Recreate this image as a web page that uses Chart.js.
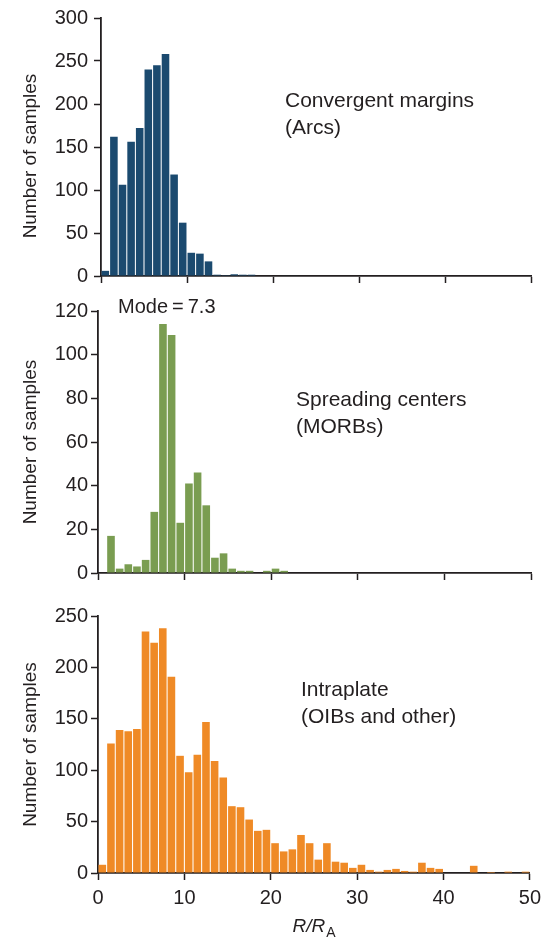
<!DOCTYPE html>
<html><head><meta charset="utf-8">
<script src="https://cdn.jsdelivr.net/npm/chart.js@4.4.1/dist/chart.umd.min.js"></script>
<style>
html,body{margin:0;padding:0;background:#fff;}
body{width:547px;height:940px;position:relative;overflow:hidden;}
.p{position:absolute;left:0;width:547px;}
</style></head><body>
<div class="p" style="top:0;height:295px"><canvas id="c1"></canvas></div>
<div class="p" style="top:295px;height:300px"><canvas id="c2"></canvas></div>
<div class="p" style="top:595px;height:345px"><canvas id="c3"></canvas></div>
<script>
// Bin centres of R/RA histogram (bin width 1)
const binCenters = [0.5,1.5,2.5,3.5,4.5,5.5,6.5,7.5,8.5,9.5,10.5,11.5,12.5,13.5,14.5,15.5,16.5,17.5,18.5,19.5,
  20.5,21.5,22.5,23.5,24.5,25.5,26.5,27.5,28.5,29.5,30.5,31.5,32.5,33.5,34.5,35.5,36.5,37.5,38.5,39.5,
  40.5,41.5,42.5,43.5,44.5,45.5,46.5,47.5,48.5,49.5];
// Convergent margins (Arcs)
const arcsCounts = [6,162,106,156,172,240,245,258,118,62,27,26,17,1.5,1,2,1.5,1.5,0,0,
  0,0.5,0.5,0,0,0,0,0,0,0,0,0,0,0,0,0,0,0,0,0,0,0,0,0,0,0,0,0,0,0];
// Spreading centers (MORBs)
const morbCounts = [0,17,2,4,3,6,28,114,109,23,41,46,31,7,9,2,1,1,0,1,
  2,1,0,0,0,0,0,0,0,0,0,0,0,0,0,0,0,0,0,0,0,0,0,0,0,0,0,0,0,0];
// Intraplate (OIBs and other)
const oibCounts = [8,126,139,138,140,235,224,238,191,114,98,115,147,109,93,65,64,52,41,42,
  29,21,23,37,29,13,29,11,10,5,8,3,1.3,3,4,2,1.3,10,5,4,0.5,0,0,7,0,1,0,1.3,0,1.3];
const xTicks = [0,10,20,30,40,50];
const arcsYTicks = [0,50,100,150,200,250,300];
const morbYTicks = [0,20,40,60,80,100,120];
const oibYTicks = [0,50,100,150,200,250];

const INK = '#231f20';
const FONT = '"Liberation Sans", Arial, Helvetica, sans-serif';

const textPlugin = {
  id: 'texts',
  afterDraw(chart, args, opts) {
    const ctx = chart.ctx;
    ctx.save();
    ctx.fillStyle = INK;
    ctx.textBaseline = 'alphabetic';
    ctx.textAlign = 'left';
    (opts.lines || []).forEach(l => {
      ctx.font = (l.size || 21) + 'px ' + FONT;
      ctx.fillText(l.text, l.x, l.y);
    });
    if (opts.yTitle) {
      ctx.save();
      ctx.font = '19px ' + FONT;
      ctx.textAlign = 'center';
      ctx.textBaseline = 'middle';
      ctx.translate(opts.yTitle.x, opts.yTitle.y);
      ctx.rotate(-Math.PI / 2);
      ctx.fillText('Number of samples', 0, 0);
      ctx.restore();
    }
    if (opts.xTitle) {
      const ca = chart.chartArea;
      const cx = (ca.left + ca.right) / 2;
      const y = opts.xTitle.y;
      const it = 'italic 19px ' + FONT, sub = '14px ' + FONT;
      ctx.font = it; const w1 = ctx.measureText('R').width; const w2 = ctx.measureText('/').width;
      ctx.font = sub; const w3 = ctx.measureText('A').width;
      const total = w1 * 2 + w2 + w3 + 1;
      let x = cx - total / 2;
      ctx.font = it; ctx.fillText('R', x, y); x += w1;
      ctx.fillText('/', x, y); x += w2;
      ctx.fillText('R', x, y); x += w1 + 1;
      ctx.font = sub; ctx.fillText('A', x, y + 5);
    }
    ctx.restore();
  }
};

function makeChart(id, values, color, yTicks, cfg) {
  const data = binCenters.map((c, i) => ({x: c, y: values[i]}));
  return new Chart(document.getElementById(id), {
    type: 'bar',
    data: { datasets: [{ data, backgroundColor: color, borderWidth: 0,
      barPercentage: 0.88, categoryPercentage: 1.0 }] },
    options: {
      responsive: true, maintainAspectRatio: false, animation: false,
      layout: { padding: { top: cfg.top, left: 15, right: 16, bottom: 0 } },
      plugins: { legend: { display: false }, tooltip: { enabled: false },
        texts: { lines: cfg.lines, xTitle: cfg.xTitle, yTitle: cfg.yTitle } },
      scales: {
        x: {
          type: 'linear', min: 0, max: 50, offset: false,
          afterBuildTicks: s => { s.ticks = xTicks.map(v => ({value: v})); },
          afterFit: s => { s.height = cfg.xHeight; },
          grid: { offset: false, drawOnChartArea: false, drawTicks: true, tickLength: 7, tickColor: INK, tickWidth: 1.5 },
          border: { display: true, color: INK, width: 1.8 },
          ticks: { display: cfg.xLabels, color: INK, padding: 6, maxRotation: 0,
            font: { family: FONT, size: 20 } }
        },
        y: {
          min: 0, max: yTicks[yTicks.length - 1],
          afterBuildTicks: s => { s.ticks = yTicks.map(v => ({value: v})); },
          afterFit: s => { s.width = cfg.left - 15; },
          grid: { offset: false, drawOnChartArea: false, drawTicks: true, tickLength: 7, tickColor: INK, tickWidth: 1.5 },
          border: { display: true, color: INK, width: 1.8 },
          ticks: { color: INK, padding: cfg.yPad, font: { family: FONT, size: 20 } },
          title: { display: !cfg.yTitle, text: 'Number of samples', color: INK,
            padding: { top: 4, bottom: 0 }, font: { family: FONT, size: 19 } }
        }
      }
    },
    plugins: [textPlugin]
  });
}

makeChart('c1', arcsCounts, '#1b4a6f', arcsYTicks, {
  top: 14, left: 101, xHeight: 19, xLabels: false, yPad: 6,
  yTitle: { x: 31, y: 156 },
  lines: [{text: 'Convergent margins', x: 285, y: 107}, {text: '(Arcs)', x: 285, y: 134}]
});
makeChart('c2', morbCounts, '#7a9d51', morbYTicks, {
  top: 16, left: 98, xHeight: 22, xLabels: false, yPad: 3,
  lines: [{text: 'Mode\u2009=\u20097.3', x: 118, y: 18, size: 20},
          {text: 'Spreading centers', x: 296, y: 111}, {text: '(MORBs)', x: 296, y: 138}]
});
makeChart('c3', oibCounts, '#ef8a26', oibYTicks, {
  top: 21, left: 98, xHeight: 67, xLabels: true, yPad: 3,
  lines: [{text: 'Intraplate', x: 301, y: 101}, {text: '(OIBs and other)', x: 301, y: 128}],
  xTitle: { y: 337 }
});
</script>
</body></html>
